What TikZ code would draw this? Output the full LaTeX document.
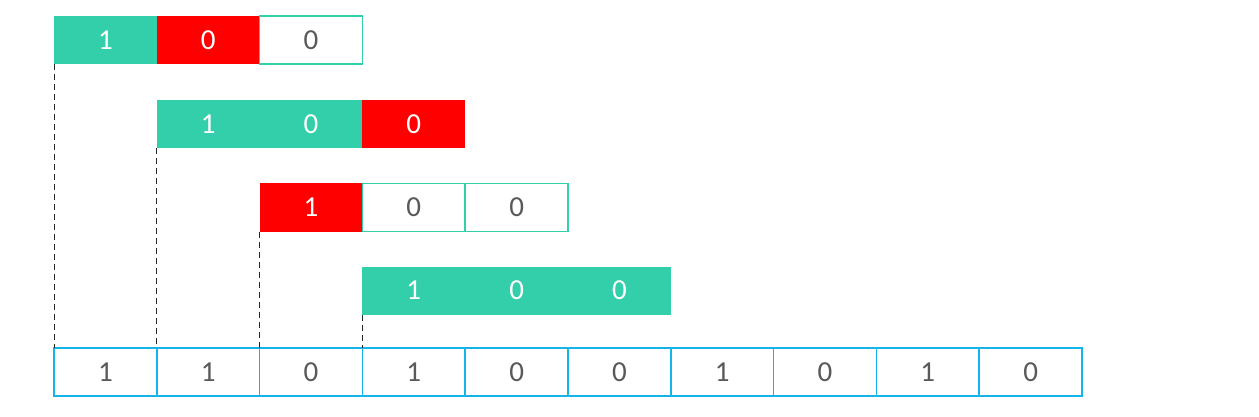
\documentclass[tikz,border=0pt]{standalone}
\usepackage{fontspec}
\setmainfont{Carlito}
\usetikzlibrary{positioning}
\definecolor{mint}{RGB}{51,206,170}
\definecolor{skyline}{RGB}{20,180,235}
\definecolor{digitgray}{RGB}{89,89,89}
\begin{document}
\begin{tikzpicture}[x=0.5pt,y=-0.5pt]
    \tikzset{
      cell/.style={minimum width=51.4pt, minimum height=24pt, inner sep=0pt, outer sep=0pt,
                   font=\fontsize{14.5}{17}\selectfont},
      on/.style={cell, fill=mint, text=white},
      hit/.style={cell, fill=red, text=white},
      off/.style={cell, draw=mint, line width=0.75pt, fill=white, text=digitgray},
      bit/.style={cell, draw=skyline, line width=0.75pt, text=digitgray},
      guide/.style={densely dashed, line width=0.4pt, black!85}
    }
    \useasboundingbox (0,0) rectangle (1259,417);
    % shifted divisor rows
    \node [on, anchor=west] (r1a) at (54,40) {1};
    \node [hit, right=0pt of r1a] (r1b) {0};
    \node [off, right=0pt of r1b] (r1c) {0};
    \node [on, anchor=west] (r2a) at (156.8,124) {1};
    \node [on, right=0pt of r2a] (r2b) {0};
    \node [hit, right=0pt of r2b] (r2c) {0};
    \node [hit, anchor=west] (r3a) at (259.6,207.5) {1};
    \node [off, right=0pt of r3a] (r3b) {0};
    \node [off, right=0pt of r3b] (r3c) {0};
    \node [on, anchor=west] (r4a) at (362.4,290.5) {1};
    \node [on, right=0pt of r4a] (r4b) {0};
    \node [on, right=0pt of r4b] (r4c) {0};
    % bit string
    \foreach \v [count=\i] in {1,1,0,1,0,0,1,0,1,0}
      \node [bit, anchor=west] (b\i) at ({54+(\i-1)*102.8},372) {\v};
    \foreach \r in {1,...,4}
      \draw [guide] (r\r a.south west) -- (b\r.north west);
\end{tikzpicture}
\end{document}
